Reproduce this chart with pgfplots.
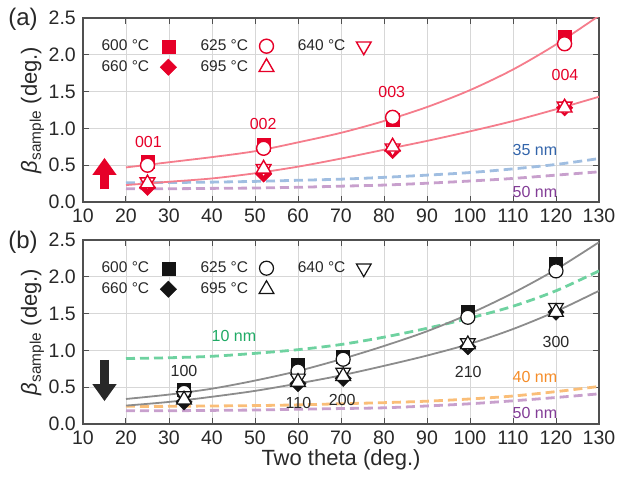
\documentclass[border=0pt]{standalone}
\usepackage{fontspec}
\setmainfont{Liberation Sans}
\usepackage{pgfplots}
\pgfplotsset{compat=1.18}
\usetikzlibrary{arrows.meta}
\definecolor{redm}{RGB}{230,0,40}
\definecolor{fitpink}{RGB}{245,125,140}
\definecolor{blued}{RGB}{160,190,225}
\definecolor{purpled}{RGB}{200,160,205}
\definecolor{greend}{RGB}{110,210,160}
\definecolor{oranged}{RGB}{250,190,120}
\definecolor{bluet}{RGB}{50,100,170}
\definecolor{purplet}{RGB}{130,60,150}
\definecolor{greent}{RGB}{30,170,100}
\definecolor{oranget}{RGB}{245,140,40}
\definecolor{grayfit}{RGB}{140,140,140}
\definecolor{gridc}{RGB}{215,215,215}
\definecolor{axisc}{RGB}{80,80,80}
\definecolor{tickc}{RGB}{40,40,40}
\definecolor{blk}{RGB}{20,20,20}
\tikzset{annot/.style={font=\fontsize{16}{19}\selectfont}}
\pgfplotsset{
  myaxis/.style={
    scale only axis, width=516pt, height=184pt,
    xmin=10, xmax=130, ymin=0, ymax=2.5,
    xtick={10,20,...,130}, ytick={0,0.5,...,2.5},
    grid=major, major grid style={gridc, line width=0.7pt},
    axis line style={axisc, line width=1.2pt},
    tick style={axisc, line width=1pt}, major tick length=6pt,
    tick align=inside,
    tick label style={font=\fontsize{19.5}{22}\selectfont, text=tickc, inner sep=1pt},
    xticklabel style={yshift=-6pt},
    yticklabel style={xshift=-6pt},
    /pgf/number format/assume math mode=true,
    yticklabel style={/pgf/number format/fixed, /pgf/number format/fixed zerofill, /pgf/number format/precision=1},
    ylabel={{\itshape β}\textsubscript{sample} (deg.)},
    ylabel style={font=\fontsize{22}{25}\selectfont, text=tickc},
    xlabel style={font=\fontsize{22}{25}\selectfont, text=tickc},
    legend plot pos=right,
    legend columns=3,
    legend style={draw=none, fill=none, font=\fontsize{15.5}{18}\selectfont,
      at={(rel axis cs:0.026,0.903)}, anchor=north west, text=tickc,
      row sep=4pt,
      /tikz/every even column/.append style={column sep=22pt},
      /tikz/every odd column/.append style={column sep=9pt}},
  },
  fitline/.style={smooth, no marks, line width=1.8pt},
  dashline/.style={smooth, no marks, line width=2.8pt, dash pattern=on 9pt off 5pt},
}
\begin{document}
\begin{tikzpicture}
\path[use as bounding box] (-83pt,-60pt) rectangle (535pt,424pt);
% ---------------- panel (a) ----------------
\begin{axis}[myaxis, at={(0,222pt)}, anchor=south west]
\addlegendimage{only marks, mark=square*, mark size=6.5pt, mark options={fill=redm, draw=redm}}
\addlegendentry{600 °C}
\addlegendimage{only marks, mark=*, mark size=7pt, mark options={fill=white, draw=redm, line width=1.4pt}}
\addlegendentry{625 °C}
\addlegendimage{only marks, mark=triangle*, mark size=8.5pt, mark options={fill=white, draw=redm, line width=1.4pt, rotate=180}}
\addlegendentry{640 °C}
\addlegendimage{only marks, mark=square*, mark size=5.8pt, mark options={fill=redm, draw=redm, rotate=45}}
\addlegendentry{660 °C}
\addlegendimage{only marks, mark=triangle*, mark size=8.5pt, mark options={fill=white, draw=redm, line width=1.4pt}}
\addlegendentry{695 °C}
% dashed size lines
\addplot[dashline, blued, forget plot] coordinates {(20,0.26) (30,0.265) (40,0.27) (50,0.28) (60,0.295) (70,0.31) (80,0.335) (90,0.365) (100,0.40) (110,0.45) (120,0.51) (130,0.59)};
\addplot[dashline, purpled, forget plot] coordinates {(20,0.18) (30,0.18) (40,0.185) (50,0.19) (60,0.20) (70,0.215) (80,0.23) (90,0.255) (100,0.285) (110,0.32) (120,0.365) (130,0.41)};
% fits
\addplot[fitline, fitpink, forget plot] coordinates {(20,0.47) (30,0.54) (40,0.61) (50,0.69) (60,0.81) (70,0.94) (80,1.10) (90,1.29) (100,1.52) (110,1.80) (120,2.14) (130,2.53)};
\addplot[fitline, fitpink, forget plot] coordinates {(20,0.23) (30,0.275) (40,0.32) (50,0.39) (60,0.48) (70,0.59) (80,0.71) (90,0.83) (100,0.96) (110,1.10) (120,1.26) (130,1.43)};
% data
\addplot[only marks, mark=square*, mark size=6.5pt, mark options={fill=redm, draw=redm}, forget plot] coordinates {(25,0.55) (52,0.78) (82,1.12) (122,2.25)};
\addplot[only marks, mark=square*, mark size=5.8pt, mark options={fill=redm, draw=redm, rotate=45}, forget plot] coordinates {(25,0.20) (52,0.38) (82,0.70) (122,1.28)};
\addplot[only marks, mark=*, mark size=7pt, mark options={fill=white, draw=redm, line width=1.4pt}, forget plot] coordinates {(25,0.50) (52,0.73) (82,1.15) (122,2.15)};
\addplot[only marks, mark=triangle*, mark size=8.5pt, mark options={fill=white, draw=redm, line width=1.4pt, rotate=180}, forget plot] coordinates {(25,0.27) (52,0.45) (82,0.73) (122,1.30)};
\addplot[only marks, mark=triangle*, mark size=8.5pt, mark options={fill=white, draw=redm, line width=1.4pt}, forget plot] coordinates {(25,0.25) (52,0.45) (82,0.75) (122,1.28)};
% annotations
\node[annot, text=redm] at (axis cs:25.2,0.82) {001};
\node[annot, text=redm] at (axis cs:51.9,1.06) {002};
\node[annot, text=redm] at (axis cs:81.8,1.50) {003};
\node[annot, text=redm] at (axis cs:122.1,1.73) {004};
\node[annot, text=bluet] at (axis cs:115.1,0.71) {35 nm};
\node[annot, text=purplet] at (axis cs:115.1,0.14) {50 nm};
\draw[redm, line width=9pt, -{Triangle[length=17pt, width=23pt]}] (axis cs:15,0.17) -- (axis cs:15,0.60);
\end{axis}
% ---------------- panel (b) ----------------
\begin{axis}[myaxis, at={(0,0)}, anchor=south west, xlabel={Two theta (deg.)}]
\addlegendimage{only marks, mark=square*, mark size=6.5pt, mark options={fill=blk, draw=blk}}
\addlegendentry{600 °C}
\addlegendimage{only marks, mark=*, mark size=7pt, mark options={fill=white, draw=blk, line width=1.2pt}}
\addlegendentry{625 °C}
\addlegendimage{only marks, mark=triangle*, mark size=8.5pt, mark options={fill=white, draw=blk, line width=1.2pt, rotate=180}}
\addlegendentry{640 °C}
\addlegendimage{only marks, mark=square*, mark size=5.8pt, mark options={fill=blk, draw=blk, rotate=45}}
\addlegendentry{660 °C}
\addlegendimage{only marks, mark=triangle*, mark size=8.5pt, mark options={fill=white, draw=blk, line width=1.2pt}}
\addlegendentry{695 °C}
\addplot[dashline, greend, forget plot] coordinates {(20,0.89) (30,0.90) (40,0.92) (50,0.96) (60,1.01) (70,1.08) (80,1.18) (90,1.30) (100,1.44) (110,1.60) (120,1.81) (130,2.08)};
\addplot[dashline, oranged, forget plot] coordinates {(20,0.24) (30,0.24) (40,0.245) (50,0.25) (60,0.26) (70,0.275) (80,0.29) (90,0.31) (100,0.34) (110,0.38) (120,0.44) (130,0.51)};
\addplot[dashline, purpled, forget plot] coordinates {(20,0.18) (30,0.18) (40,0.185) (50,0.19) (60,0.20) (70,0.21) (80,0.22) (90,0.245) (100,0.275) (110,0.315) (120,0.36) (130,0.41)};
\addplot[fitline, grayfit, forget plot] coordinates {(20,0.34) (30,0.40) (40,0.48) (50,0.59) (60,0.72) (70,0.88) (80,1.06) (90,1.26) (100,1.50) (110,1.78) (120,2.10) (130,2.47)};
\addplot[fitline, grayfit, forget plot] coordinates {(20,0.25) (30,0.30) (40,0.37) (50,0.45) (60,0.55) (70,0.66) (80,0.79) (90,0.93) (100,1.09) (110,1.29) (120,1.53) (130,1.81)};
\addplot[only marks, mark=square*, mark size=6.5pt, mark options={fill=blk, draw=blk}, forget plot] coordinates {(33.5,0.47) (60,0.80) (70.5,0.92) (99.5,1.52) (120,2.18)};
\addplot[only marks, mark=square*, mark size=5.8pt, mark options={fill=blk, draw=blk, rotate=45}, forget plot] coordinates {(33.5,0.30) (60,0.55) (70.5,0.62) (99.5,1.05) (120,1.52)};
\addplot[only marks, mark=*, mark size=7pt, mark options={fill=white, draw=blk, line width=1.2pt}, forget plot] coordinates {(33.5,0.43) (60,0.72) (70.5,0.88) (99.5,1.45) (120,2.08)};
\addplot[only marks, mark=triangle*, mark size=8.5pt, mark options={fill=white, draw=blk, line width=1.2pt, rotate=180}, forget plot] coordinates {(33.5,0.38) (60,0.62) (70.5,0.70) (99.5,1.10) (120,1.58)};
\addplot[only marks, mark=triangle*, mark size=8.5pt, mark options={fill=white, draw=blk, line width=1.2pt}, forget plot] coordinates {(33.5,0.33) (60,0.57) (70.5,0.65) (99.5,1.08) (120,1.52)};
\node[annot, text=greent] at (axis cs:45.1,1.195) {10 nm};
\node[annot, text=tickc] at (axis cs:33.5,0.72) {100};
\node[annot, text=tickc] at (axis cs:60.1,0.29) {110};
\node[annot, text=tickc] at (axis cs:70.3,0.33) {200};
\node[annot, text=tickc] at (axis cs:99.6,0.70) {210};
\node[annot, text=tickc] at (axis cs:120,1.11) {300};
\node[annot, text=oranget] at (axis cs:115.1,0.64) {40 nm};
\node[annot, text=purplet] at (axis cs:115.1,0.15) {50 nm};
\draw[tickc, line width=9pt, -{Triangle[length=17pt, width=23pt]}] (axis cs:15,0.87) -- (axis cs:15,0.31);
\end{axis}
\node[font=\fontsize{24}{28}\selectfont, text=tickc] at (-60pt,405pt) {(a)};
\node[font=\fontsize{24}{28}\selectfont, text=tickc] at (-60pt,182pt) {(b)};
\end{tikzpicture}
\end{document}
